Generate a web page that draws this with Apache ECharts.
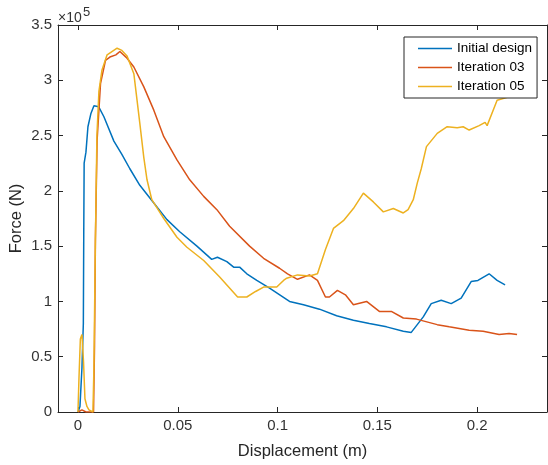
<!DOCTYPE html>
<html>
<head>
<meta charset="utf-8">
<script src="https://cdn.jsdelivr.net/npm/echarts@6/dist/echarts.min.js"></script>
<style>
  html, body { margin: 0; padding: 0; background: #fff; }
  #chart { width: 548px; height: 465px; }
</style>
</head>
<body>
<div id="chart"></div>
<script>
// displacement (m) / force (x1e5 N)
const initialX = [0, 0.001, 0.002, 0.0027, 0.0029, 0.0031, 0.004, 0.005, 0.0065, 0.008, 0.0104, 0.013, 0.018, 0.022, 0.026, 0.031, 0.038, 0.0446, 0.051, 0.0596, 0.067, 0.0699, 0.0746, 0.078, 0.081, 0.0846, 0.0896, 0.096, 0.106, 0.113, 0.121, 0.1296, 0.138, 0.146, 0.1546, 0.163, 0.167, 0.173, 0.177, 0.182, 0.187, 0.192, 0.197, 0.2004, 0.206, 0.21, 0.214];
const initialY = [0, 0.05, 0.4, 0.8, 1.6, 2.25, 2.35, 2.58, 2.7, 2.77, 2.76, 2.67, 2.45, 2.33, 2.2, 2.05, 1.89, 1.74, 1.63, 1.5, 1.38, 1.4, 1.36, 1.31, 1.31, 1.25, 1.19, 1.12, 1.0, 0.97, 0.93, 0.87, 0.83, 0.8, 0.77, 0.73, 0.72, 0.86, 0.98, 1.01, 0.98, 1.03, 1.18, 1.19, 1.25, 1.19, 1.15];

const iter03X = [0, 0.002, 0.003, 0.004, 0.0078, 0.0083, 0.00875, 0.0096, 0.0113, 0.0138, 0.016, 0.019, 0.021, 0.0246, 0.028, 0.033, 0.038, 0.043, 0.0496, 0.056, 0.063, 0.0696, 0.076, 0.086, 0.093, 0.101, 0.105, 0.11, 0.116, 0.12, 0.124, 0.126, 0.13, 0.134, 0.138, 0.1446, 0.151, 0.157, 0.163, 0.1696, 0.18, 0.186, 0.196, 0.203, 0.211, 0.216, 0.22];
const iter03Y = [0, 0.02, 0.03, 0, 0, 0.6, 1.56, 2.46, 2.97, 3.18, 3.21, 3.23, 3.26, 3.2, 3.12, 2.94, 2.73, 2.49, 2.28, 2.1, 1.95, 1.83, 1.68, 1.5, 1.39, 1.3, 1.25, 1.2, 1.24, 1.19, 1.04, 1.04, 1.1, 1.06, 0.97, 1.0, 0.91, 0.91, 0.85, 0.84, 0.79, 0.77, 0.74, 0.73, 0.7, 0.71, 0.7];

const iter05X = [0, 0.0005, 0.0012, 0.002, 0.0028, 0.0035, 0.0045, 0.0055, 0.0075, 0.008, 0.0087, 0.0095, 0.0105, 0.012, 0.0146, 0.0196, 0.022, 0.0246, 0.028, 0.031, 0.033, 0.0346, 0.037, 0.043, 0.0496, 0.0546, 0.063, 0.071, 0.08, 0.0846, 0.089, 0.093, 0.0996, 0.103, 0.1046, 0.11, 0.116, 0.12, 0.124, 0.128, 0.133, 0.138, 0.143, 0.148, 0.153, 0.158, 0.163, 0.1654, 0.168, 0.17, 0.172, 0.1746, 0.18, 0.185, 0.19, 0.193, 0.196, 0.201, 0.204, 0.205, 0.21, 0.216, 0.219, 0.223];
const iter05Y = [0, 0.3, 0.66, 0.7, 0.45, 0.12, 0.05, 0.02, 0, 0.4, 1.5, 2.5, 2.9, 3.09, 3.23, 3.29, 3.27, 3.22, 3.06, 2.61, 2.3, 2.1, 1.92, 1.75, 1.58, 1.49, 1.37, 1.22, 1.04, 1.04, 1.09, 1.13, 1.13, 1.19, 1.21, 1.24, 1.23, 1.25, 1.47, 1.66, 1.73, 1.84, 1.98, 1.9, 1.81, 1.84, 1.8, 1.83, 1.92, 2.07, 2.2, 2.4, 2.52, 2.58, 2.57, 2.58, 2.55, 2.59, 2.62, 2.59, 2.82, 2.85, 2.88, 2.92];

const seriesNames = ["Initial design", "Iteration 03", "Iteration 05"];
const xTicks = [0, 0.05, 0.1, 0.15, 0.2];

const font = "Liberation Sans, Arial, Helvetica, sans-serif";
const axisColor = "#262626";

function zip(xs, ys) {
  return xs.map((x, i) => [x, ys[i]]);
}

const chart = echarts.init(document.getElementById("chart"));

const xBase = {
  type: "value",
  min: -0.01,
  max: 0.235,
  splitLine: { show: false },
  axisLine: { show: true, onZero: false, lineStyle: { color: axisColor, width: 1 } },
  axisTick: { show: true, inside: true, length: 5, customValues: xTicks, lineStyle: { color: axisColor } },
};
const yBase = {
  type: "value",
  min: 0,
  max: 3.5,
  interval: 0.5,
  splitLine: { show: false },
  axisLine: { show: true, onZero: false, lineStyle: { color: axisColor, width: 1 } },
  axisTick: { show: true, inside: true, length: 5, lineStyle: { color: axisColor } },
};

const option = {
  animation: false,
  backgroundColor: "#fff",
  color: ["#0072BD", "#D95319", "#EDB120"],
  grid: { left: 58, right: 1, top: 25, bottom: 53, containLabel: false, outerBoundsMode: "none" },
  xAxis: [
    {
      ...xBase,
      position: "bottom",
      name: "Displacement (m)",
      nameLocation: "middle",
      nameGap: 31,
      nameMoveOverlap: false,
      nameTextStyle: { fontSize: 16.5, color: axisColor, fontFamily: font },
      axisLabel: {
        customValues: xTicks,
        margin: 6,
        fontSize: 15,
        color: "#333",
        fontFamily: font,
      },
    },
    { ...xBase, position: "top", axisLabel: { show: false } },
  ],
  yAxis: [
    {
      ...yBase,
      position: "left",
      name: "Force (N)",
      nameLocation: "middle",
      nameGap: 33,
      nameMoveOverlap: false,
      nameTextStyle: { fontSize: 16.5, color: axisColor, fontFamily: font },
      axisLabel: { margin: 6, fontSize: 15, color: "#333", fontFamily: font },
    },
    { ...yBase, position: "right", axisLabel: { show: false } },
  ],
  legend: {
    data: seriesNames,
    orient: "vertical",
    left: 404,
    top: 37,
    icon: "rect",
    backgroundColor: "#fff",
    borderColor: axisColor,
    borderWidth: 1,
    borderRadius: 0,
    padding: [4, 5, 4, 14],
    itemGap: 4,
    itemWidth: 34,
    itemHeight: 1.5,
    textStyle: { fontSize: 13.5, lineHeight: 15, color: "#000", fontFamily: font },
  },
  graphic: [
    { type: "text", x: 58, y: 18, style: { text: "×10", fontSize: 14, fill: "#333", fontFamily: font, verticalAlign: "middle" } },
    { type: "text", x: 83, y: 12, style: { text: "5", fontSize: 13, fill: "#333", fontFamily: font, verticalAlign: "middle" } },
  ],
  series: [
    { name: seriesNames[0], type: "line", data: zip(initialX, initialY) },
    { name: seriesNames[1], type: "line", data: zip(iter03X, iter03Y) },
    { name: seriesNames[2], type: "line", data: zip(iter05X, iter05Y) },
  ].map((s) => ({
    ...s,
    showSymbol: false,
    symbol: "none",
    lineStyle: { width: 1.5 },
    emphasis: { disabled: true },
  })),
};

chart.setOption(option);
</script>
</body>
</html>
